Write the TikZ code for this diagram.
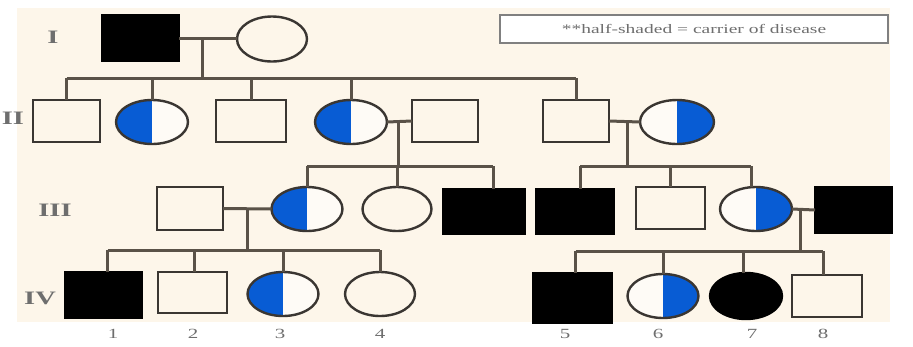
\documentclass[tikz,border=0pt]{standalone}
\usepackage{graphicx}
\usepackage{fontspec}
\setmainfont{Liberation Serif}
\usetikzlibrary{shapes.geometric}
\definecolor{bg}{RGB}{253,246,234}
\definecolor{lnk}{RGB}{90,82,72}
\definecolor{edgec}{RGB}{58,54,50}
\definecolor{carb}{RGB}{8,92,212}
\definecolor{txtc}{RGB}{110,110,110}
\newcommand{\stretchtxt}[1]{\scalebox{1.5}[1]{#1}}
\begin{document}
\begin{tikzpicture}[x=1pt,y=-1pt,
  base/.style={draw=edgec, line width=2.4pt, outer sep=0pt, inner sep=0pt},
  msq/.style 2 args={base, rectangle, minimum width=#1, minimum height=#2},
  fem/.style 2 args={base, ellipse, minimum width=#1, minimum height=#2},
  aff/.style={fill=black, draw=black},
  carL/.style={fill=white!55!bg, path picture={\fill[carb] (path picture bounding box.south west) rectangle (path picture bounding box.north);}},
  carR/.style={fill=white!55!bg, path picture={\fill[carb] (path picture bounding box.south east) rectangle (path picture bounding box.north);}},
  link/.style={draw=lnk, line width=3pt},
  gen/.style={text=txtc, font=\fontsize{19}{19}\selectfont\bfseries, inner sep=0pt},
  num/.style={text=txtc, font=\fontsize{14}{14}\selectfont, inner sep=0pt},
  legend/.style={draw=gray, line width=2pt, fill=white, minimum width=388, minimum height=28, inner sep=0pt, text=txtc, font=\fontsize{13}{13}\selectfont}
]
\useasboundingbox (0,0) rectangle (913,346);
\fill[bg] (17,8) rectangle (890,322);

% legend
\node[legend] (leg) at (694,29) {\stretchtxt{**half-shaded = carrier of disease}};

% generation labels
\node[gen] (gI) at (53,37) {\stretchtxt{I}};
\node[gen] (gII) at (13,118) {\stretchtxt{II}};
\node[gen] (gIII) at (55,210) {\stretchtxt{III}};
\node[gen] (gIV) at (40,298) {\stretchtxt{IV}};

% generation I
\node[msq={77}{46}, aff] (I1) at (140.5,38) {};
\node[fem={70}{45}] (I2) at (272,39) {};

% generation II
\node[msq={67}{42}] (II1) at (66.5,121) {};
\node[fem={72}{44}, carL] (II2) at (152,122) {};
\node[msq={70}{42}] (II3) at (251,121) {};
\node[fem={72}{44}, carL] (II4) at (351,122) {};
\node[msq={66}{42}] (II5) at (445,121) {};
\node[msq={66}{42}] (II6) at (576,121) {};
\node[fem={74}{44}, carR] (II7) at (677,122) {};

% generation III
\node[msq={66}{43}] (III1) at (190,208.5) {};
\node[fem={71}{44}, carL] (III2) at (307,209) {};
\node[fem={69}{44}] (III3) at (397,209) {};
\node[msq={82}{45}, aff] (III4) at (484,211.5) {};
\node[msq={78}{45}, aff] (III5) at (575,211.5) {};
\node[msq={69}{42}] (III6) at (670.5,208) {};
\node[fem={72}{44}, carR] (III7) at (756,209) {};
\node[msq={77}{46}, aff] (III8) at (853.5,210) {};

% generation IV
\node[msq={77}{46}, aff] (IV1) at (103.5,295) {};
\node[msq={69}{41}] (IV2) at (192.5,292.5) {};
\node[fem={71}{44}, carL] (IV3) at (283,294) {};
\node[fem={70}{44}] (IV4) at (380,294) {};
\node[msq={79}{50}, aff] (IV5) at (572.5,298) {};
\node[fem={71}{44}, carR] (IV6) at (663,296) {};
\node[fem={72}{46}, aff] (IV7) at (746,296) {};
\node[msq={70}{42}] (IV8) at (827,296) {};

% numbers
\node[num] (n1) at (113,334) {\stretchtxt{1}};
\node[num] (n2) at (193,334) {\stretchtxt{2}};
\node[num] (n3) at (280,334) {\stretchtxt{3}};
\node[num] (n4) at (380,334) {\stretchtxt{4}};
\node[num] (n5) at (565,334) {\stretchtxt{5}};
\node[num] (n6) at (658,334) {\stretchtxt{6}};
\node[num] (n7) at (752,334) {\stretchtxt{7}};
\node[num] (n8) at (823,334) {\stretchtxt{8}};

% coordinates for connectors
\coordinate (m1) at (202,38);
\coordinate (s2) at (202,78);
\coordinate (m2) at (398,121);
\coordinate (s3L) at (398,166);
\coordinate (m3) at (627,121);
\coordinate (s3R) at (627,166);
\coordinate (m4) at (247,208);
\coordinate (s4L) at (247,250);
\coordinate (m5) at (800,208);
\coordinate (s4R) at (800,251);

% marriages
\draw[link] (I1.east) -- (I1.east -| I2.west);
\draw[link] (II4.east) -- (II5.west);
\draw[link] (II6.east) -- (II7.west);
\draw[link] (III1.east) -- (III2.west);
\draw[link] (III7.east) -- (III8.west);
% descent
\draw[link] (m1) -- (s2);
\draw[link] (m2) -- (s3L);
\draw[link] (m3) -- (s3R);
\draw[link] (m4) -- (s4L);
\draw[link] (m5) -- (s4R);
% sibship lines
\draw[link] (II1.north |- s2) -- (II6.north |- s2);
\draw[link] (III2.north |- s3L) -- ([xshift=9pt]III4.north |- s3L);
\draw[link] ([xshift=5pt]III5.north |- s3R) -- ([xshift=-5pt]III7.north |- s3R);
\draw[link] ([xshift=4pt]IV1.north |- s4L) -- (IV4.north |- s4L);
\draw[link] ([xshift=3pt]IV5.north |- s4R) -- ([xshift=-4pt]IV8.north |- s4R);
% drops
\foreach \n in {II1,II2,II3,II4,II6} \draw[link] (\n.north) -- (\n.north |- s2);
\draw[link] (III2.north) -- (III2.north |- s3L);
\draw[link] (III3.north) -- (III3.north |- s3L);
\draw[link] ([xshift=9pt]III4.north) -- ([xshift=9pt]III4.north |- s3L);
\draw[link] ([xshift=5pt]III5.north) -- ([xshift=5pt]III5.north |- s3R);
\draw[link] (III6.north) -- (III6.north |- s3R);
\draw[link] ([xshift=-5pt]III7.north) -- ([xshift=-5pt]III7.north |- s3R);
\draw[link] ([xshift=4pt]IV1.north) -- ([xshift=4pt]IV1.north |- s4L);
\draw[link] ([xshift=2pt]IV2.north) -- ([xshift=2pt]IV2.north |- s4L);
\draw[link] (IV3.north) -- (IV3.north |- s4L);
\draw[link] (IV4.north) -- (IV4.north |- s4L);
\draw[link] ([xshift=3pt]IV5.north) -- ([xshift=3pt]IV5.north |- s4R);
\draw[link] (IV6.north) -- (IV6.north |- s4R);
\draw[link] ([xshift=-3pt]IV7.north) -- ([xshift=-3pt]IV7.north |- s4R);
\draw[link] ([xshift=-4pt]IV8.north) -- ([xshift=-4pt]IV8.north |- s4R);
\end{tikzpicture}
\end{document}
